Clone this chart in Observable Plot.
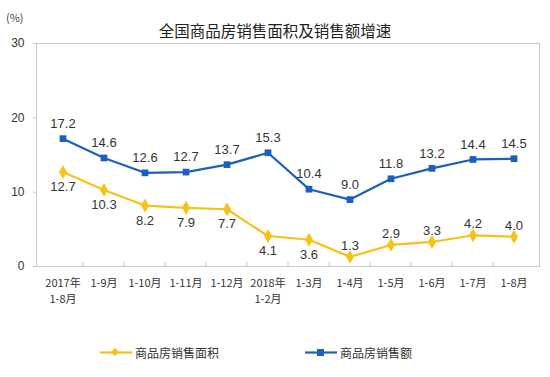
<!DOCTYPE html>
<html>
<head>
<meta charset="utf-8">
<script src="https://cdn.jsdelivr.net/npm/d3@7"></script>
<script src="https://cdn.jsdelivr.net/npm/@observablehq/plot@0.6"></script>
<style>
  html, body { margin: 0; padding: 0; background: #fff; }
  #wrap { position: relative; width: 550px; height: 377px; overflow: hidden; font-family: "Noto Sans CJK SC", "Liberation Sans", sans-serif; }
  #title { position: absolute; left: 0; width: 550px; top: 19px; text-align: center; font-size: 15.5px; color: #222; padding-left: -4px; line-height: 22px; }
  #unit { position: absolute; left: 6px; top: 9px; font-size: 11px; color: #444; line-height: 16px; }
  #legend { position: absolute; top: 342px; left: 0; width: 550px; height: 20px; font-size: 12px; color: #333; }
  .item { position: absolute; top: 0; display: flex; align-items: center; height: 20px; }
  .item svg { margin-right: 3px; }
  #chart { position: absolute; left: 0; top: 0; }
</style>
</head>
<body>
<div id="wrap">
  <div id="chart"></div>
  <div id="unit">(%)</div>
  <div id="title">全国商品房销售面积及销售额增速</div>
  <div id="legend"></div>
</div>
<script>
const categories = ["2017年\n1-8月", "1-9月", "1-10月", "1-11月", "1-12月", "2018年\n1-2月", "1-3月", "1-4月", "1-5月", "1-6月", "1-7月", "1-8月"];
const areaGrowth = [12.7, 10.3, 8.2, 7.9, 7.7, 4.1, 3.6, 1.3, 2.9, 3.3, 4.2, 4.0];
const salesGrowth = [17.2, 14.6, 12.6, 12.7, 13.7, 15.3, 10.4, 9.0, 11.8, 13.2, 14.4, 14.5];
const yTicks = [0, 10, 20, 30];
const seriesNames = ["商品房销售面积", "商品房销售额"];

const blue = "#1b5fc1";
const yellow = "#f4c218";

const W = 550, H = 377, mL = 36, mR = 11, mT = 43, mB = 111;
const bw = (W - mL - mR) / categories.length;

const area = categories.map((c, i) => ({cat: c, v: areaGrowth[i], i}));
const sales = categories.map((c, i) => ({cat: c, v: salesGrowth[i], i}));

const chart = Plot.plot({
  width: W, height: H,
  marginLeft: mL, marginRight: mR, marginTop: mT, marginBottom: mB,
  style: {fontFamily: "'Liberation Sans', Arial, sans-serif", color: "#333", background: "transparent"},
  x: {type: "band", domain: categories, padding: 0},
  y: {domain: [0, 30], ticks: yTicks},
  marks: [
    Plot.frame({stroke: "#c8c8c8"}),
    Plot.ruleX(categories.slice(1), {x: d => d, dx: -bw / 2, y1: 0, y2: 0.55, stroke: "#c8c8c8"}),
    Plot.axisY({ticks: yTicks, tickSize: 3, tickPadding: 9, stroke: "#c8c8c8", fontSize: 12, fill: "#333", label: null, fontFamily: "'Liberation Sans', Arial, sans-serif"}),
    Plot.axisX({tickSize: 0, tickPadding: 9, fontSize: 11, fill: "#333", label: null, lineHeight: 1.45, fontFamily: "'Noto Sans CJK SC', sans-serif"}),
    Plot.lineY(area, {x: "cat", y: "v", stroke: yellow, strokeWidth: 2.2}),
    Plot.lineY(sales, {x: "cat", y: "v", stroke: blue, strokeWidth: 2.2}),
    Plot.dot(area, {x: "cat", y: "v", symbol: "diamond", r: 4.2, fill: yellow}),
    Plot.dot(sales, {x: "cat", y: "v", symbol: "square", r: 3.8, fill: blue}),
    Plot.text(sales, {x: "cat", y: "v", text: d => d.v.toFixed(1), dy: -15, fontSize: 13, fill: "#333"}),
    Plot.text(area.filter(d => d.i < 7), {x: "cat", y: "v", text: d => d.v.toFixed(1), dy: 15, fontSize: 13, fill: "#333"}),
    Plot.text(area.filter(d => d.i >= 7), {x: "cat", y: "v", text: d => d.v.toFixed(1), dy: -11, fontSize: 13, fill: "#333"})
  ]
});
document.getElementById("chart").appendChild(chart);

// legend
const legend = document.getElementById("legend");
const legendItems = [
  {name: seriesNames[0], color: yellow, left: 100, shape: "diamond"},
  {name: seriesNames[1], color: blue, left: 305, shape: "square"}
];
for (const it of legendItems) {
  const div = document.createElement("div");
  div.className = "item";
  div.style.left = it.left + "px";
  const mk = it.shape === "diamond"
    ? `<path d="M15,6 L19,10 L15,14 L11,10 Z" fill="${it.color}"/>`
    : `<rect x="12" y="7" width="7" height="7" fill="${it.color}"/>`;
  div.innerHTML = `<svg width="32" height="20"><line x1="0" y1="10.5" x2="32" y2="10.5" stroke="${it.color}" stroke-width="2.2"/>${mk}</svg><span>${it.name}</span>`;
  legend.appendChild(div);
}
</script>
</body>
</html>
